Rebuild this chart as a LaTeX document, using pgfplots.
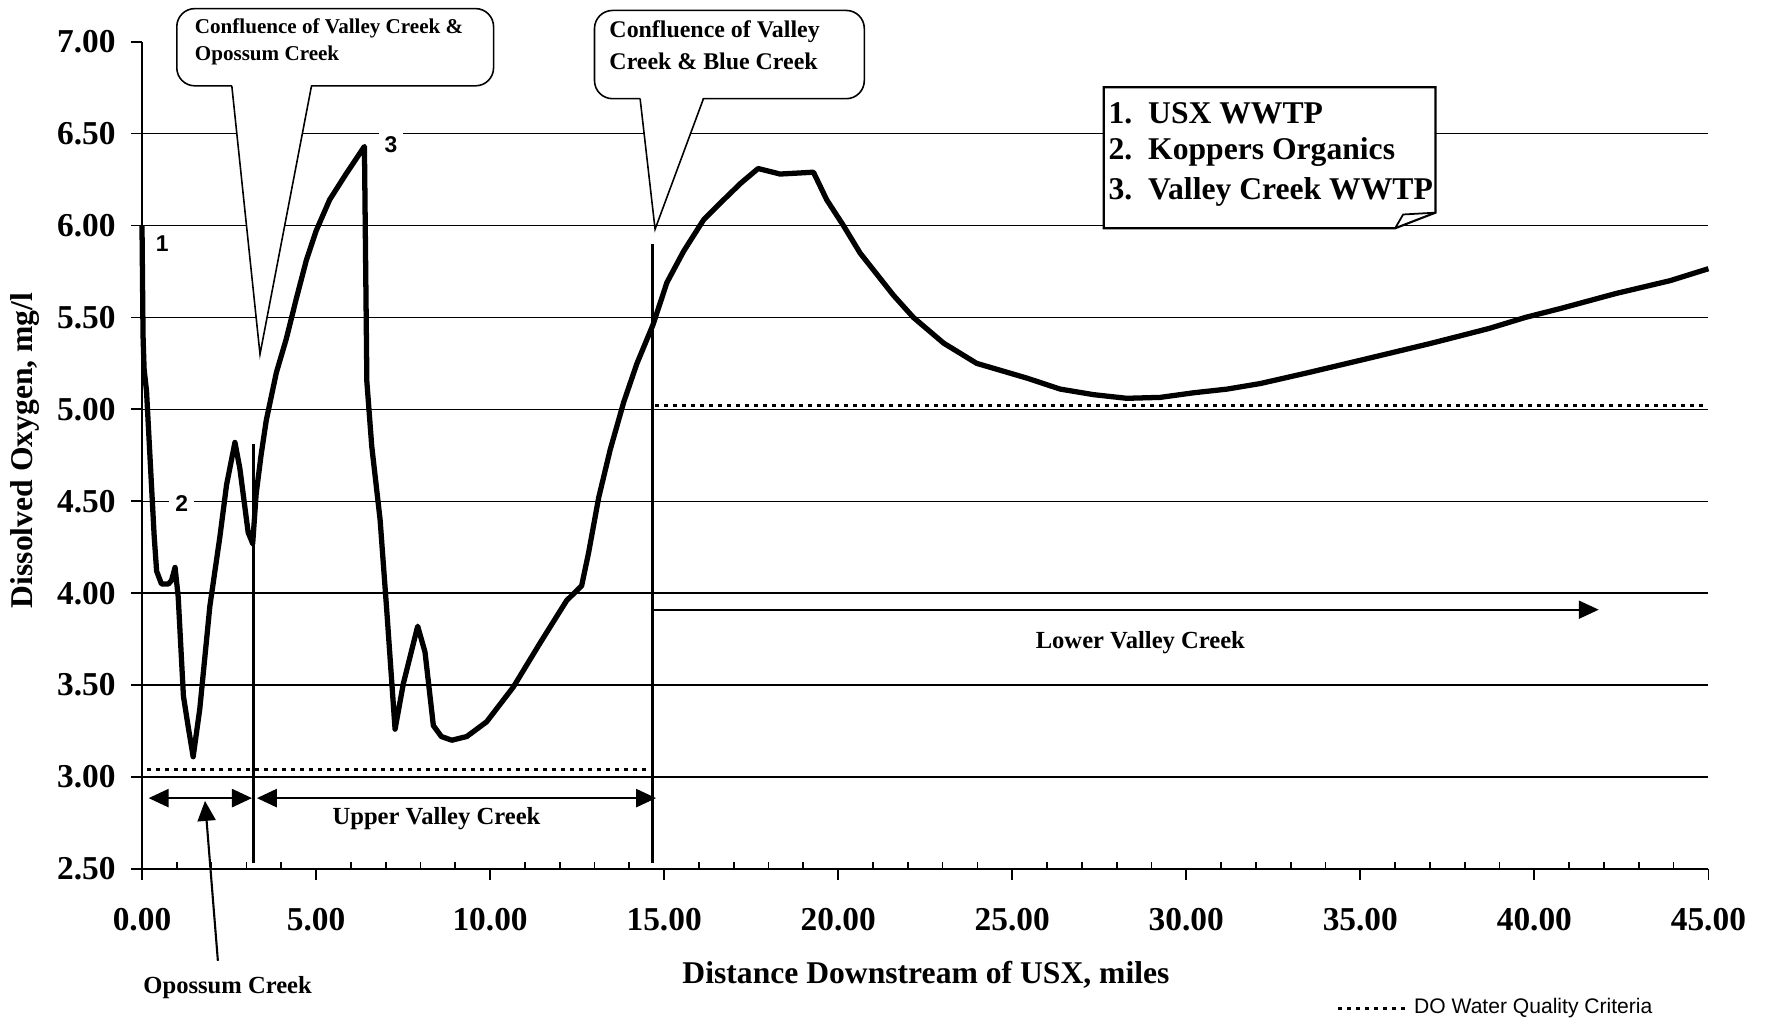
\documentclass[border=0pt]{standalone}
\usepackage{fontspec}
\setmainfont{Liberation Serif}
\newfontfamily\sans{Liberation Sans}
\usepackage{pgfplots}
\pgfplotsset{compat=1.18}
\usetikzlibrary{arrows.meta}
\tikzset{>={Triangle[length=2.0mm,width=1.8mm]}}

\pgfplotstableread{
x y
0.00 6.00
0.03 5.40
0.06 5.22
0.13 5.10
0.28 4.56
0.35 4.31
0.42 4.12
0.56 4.05
0.76 4.05
0.85 4.07
0.95 4.14
1.04 3.98
1.19 3.44
1.33 3.27
1.47 3.11
1.66 3.37
1.95 3.93
2.24 4.31
2.43 4.59
2.67 4.82
2.81 4.68
3.05 4.33
3.18 4.27
3.28 4.54
3.42 4.75
3.57 4.94
3.86 5.20
4.14 5.38
4.43 5.60
4.72 5.81
5.00 5.97
5.39 6.14
5.86 6.28
6.39 6.43
6.46 5.15
6.60 4.80
6.84 4.40
7.03 3.91
7.27 3.26
7.51 3.51
7.92 3.82
8.13 3.68
8.37 3.28
8.60 3.22
8.90 3.20
9.33 3.22
9.90 3.30
10.67 3.49
11.44 3.73
12.20 3.96
12.63 4.04
12.83 4.22
13.12 4.52
13.45 4.78
13.84 5.04
14.22 5.25
14.68 5.46
15.08 5.69
15.56 5.86
16.13 6.03
16.71 6.14
17.20 6.23
17.70 6.31
18.33 6.28
19.29 6.29
19.67 6.14
20.15 6.00
20.63 5.85
21.59 5.62
22.16 5.50
23.03 5.36
23.98 5.25
25.42 5.17
26.38 5.11
27.33 5.08
28.29 5.06
29.25 5.065
30.21 5.09
31.17 5.11
32.12 5.14
33.51 5.20
35.07 5.27
37.05 5.36
38.70 5.44
39.74 5.50
40.78 5.55
42.34 5.63
43.90 5.70
45.00 5.765
}\dotable

\begin{document}
\begin{tikzpicture}
\path[use as bounding box] (0,0) rectangle (176.7mm,102mm);
\begin{axis}[
  at={(14.2mm,15.11mm)}, anchor=south west,
  scale only axis, width=156.64mm, height=82.72mm,
  xmin=0, xmax=45, ymin=2.5, ymax=7,
  clip=false,
  axis lines=left,
  axis line style={-, line width=0.5pt},
  xtick={0,5,...,45},
  ytick={2.5,3,...,7},
  tick align=outside,
  major tick length=1.1mm,
  tick style={black, line width=0.5pt},
  extra x ticks={1,2,3,4,6,7,8,9,11,12,13,14,16,17,18,19,21,22,23,24,26,27,28,29,31,32,33,34,36,37,38,39,41,42,43,44},
  extra x tick labels={},
  extra x tick style={tick align=inside, major tick length=0.7mm},
  extra y ticks={3,3.5,...,6.5},
  extra y tick labels={},
  extra y tick style={grid=major, major tick length=0pt},
  grid style={black, line width=0.4pt},
  /pgf/number format/fixed,
  /pgf/number format/fixed zerofill,
  /pgf/number format/precision=2,
  /pgf/number format/assume math mode=true,
  xticklabel style={font=\bfseries\fontsize{9.5}{11}\selectfont, yshift=-1.6mm},
  yticklabel style={font=\bfseries\fontsize{9.5}{11}\selectfont, xshift=-0.3mm},
  xlabel={Distance Downstream of USX, miles},
  ylabel={Dissolved Oxygen, mg/l},
  xlabel style={font=\bfseries\fontsize{9}{11}\selectfont, at={(axis description cs:0.5005,-0.1281)}, anchor=center},
  ylabel style={font=\bfseries\fontsize{9}{11}\selectfont, at={(axis description cs:-0.0747,0.506)}, anchor=center},
  legend style={at={(axis description cs:0.7622,-0.1689)}, anchor=west, draw=none, fill=none,
     inner sep=0pt, font=\sans\fontsize{6}{7}\selectfont, nodes={inner sep=0.6mm}},
  legend image code/.code={\draw[#1] (0mm,0mm) -- (6.8mm,0mm);},
]
% DO criteria
\addplot[black, line width=0.35mm, dash pattern=on 0.4mm off 0.5mm] coordinates {(0.15,3.04) (14.62,3.04)};
\addlegendentry{DO Water Quality Criteria}
\addplot[black, line width=0.35mm, dash pattern=on 0.4mm off 0.5mm, forget plot] coordinates {(14.75,5.02) (45,5.02)};

% vertical confluence lines
\addplot[black, line width=1pt, forget plot] coordinates {(3.2,2.53) (3.2,4.81)};
\addplot[black, line width=1pt, forget plot] coordinates {(14.67,2.53) (14.67,5.90)};

% main DO profile
\addplot[black, line width=1.5pt, line join=round, forget plot] table[x=x,y=y] {\dotable};

% reach arrows
\addplot[black, line width=0.7pt, <->, forget plot] coordinates {(0.19,2.885) (3.16,2.885)};
\addplot[black, line width=0.7pt, <->, forget plot] coordinates {(3.30,2.885) (14.77,2.885)};
\addplot[black, line width=0.6pt, ->, forget plot] coordinates {(14.72,3.91) (41.85,3.91)};
\addplot[black, line width=0.6pt, ->, forget plot] coordinates {(2.18,2.00) (1.81,2.87)};

% text labels
\node[font=\bfseries\fontsize{7}{8}\selectfont] at (axis cs:8.46,2.776) {Upper Valley Creek};
\node[font=\bfseries\fontsize{7}{8}\selectfont] at (axis cs:28.68,3.73) {Lower Valley Creek};
\node[font=\bfseries\fontsize{7}{8}\selectfont] at (axis cs:2.46,1.855) {Opossum Creek};
\node[font=\sans\bfseries\fontsize{6.5}{7}\selectfont] at (axis cs:0.58,5.90) {1};
\node[font=\sans\bfseries\fontsize{6.5}{7}\selectfont, fill=white, inner sep=0.6mm] at (axis cs:1.14,4.49) {2};
\node[font=\sans\bfseries\fontsize{6.5}{7}\selectfont, fill=white, inner sep=0.6mm] at (axis cs:7.15,6.44) {3};

% callout 1
\draw[fill=white, line width=0.45pt, rounded corners=1.8mm] (axis cs:1.0,6.76) rectangle (axis cs:10.1,7.18);
\fill[white] (axis cs:2.58,6.775) -- (axis cs:3.39,5.30) -- (axis cs:4.87,6.775) -- cycle;
\draw[line width=0.45pt] (axis cs:2.58,6.76) -- (axis cs:3.39,5.30) -- (axis cs:4.87,6.76);
\node[anchor=west, font=\bfseries\fontsize{6}{7}\selectfont, inner sep=0pt] at (axis cs:1.5,7.07) {Confluence of Valley Creek \&};
\node[anchor=west, font=\bfseries\fontsize{6}{7}\selectfont, inner sep=0pt] at (axis cs:1.5,6.925) {Opossum Creek};

% callout 2
\draw[fill=white, line width=0.45pt, rounded corners=1.8mm] (axis cs:13.0,6.69) rectangle (axis cs:20.75,7.17);
\fill[white] (axis cs:14.31,6.705) -- (axis cs:14.74,5.98) -- (axis cs:16.13,6.705) -- cycle;
\draw[line width=0.45pt] (axis cs:14.31,6.69) -- (axis cs:14.74,5.98) -- (axis cs:16.13,6.69);
\node[anchor=west, font=\bfseries\fontsize{6.8}{8}\selectfont, inner sep=0pt] at (axis cs:13.41,7.055) {Confluence of Valley};
\node[anchor=west, font=\bfseries\fontsize{6.8}{8}\selectfont, inner sep=0pt] at (axis cs:13.41,6.892) {Creek \& Blue Creek};

% key box
\draw[fill=white, line width=0.6pt] (axis cs:27.63,5.985) -- (axis cs:27.63,6.752) -- (axis cs:37.16,6.752) -- (axis cs:37.16,6.07) -- (axis cs:36.0,5.985) -- cycle;
\draw[line width=0.5pt] (axis cs:36.0,5.985) -- (axis cs:36.23,6.06) -- (axis cs:37.16,6.07);
\node[anchor=west, font=\bfseries\fontsize{9}{10}\selectfont, inner sep=0pt] at (axis cs:27.75,6.61) {1.\ \ USX WWTP};
\node[anchor=west, font=\bfseries\fontsize{9}{10}\selectfont, inner sep=0pt] at (axis cs:27.75,6.40) {2.\ \ Koppers Organics};
\node[anchor=west, font=\bfseries\fontsize{9}{10}\selectfont, inner sep=0pt] at (axis cs:27.75,6.18) {3.\ \ Valley Creek WWTP};
\end{axis}
\end{tikzpicture}
\end{document}
